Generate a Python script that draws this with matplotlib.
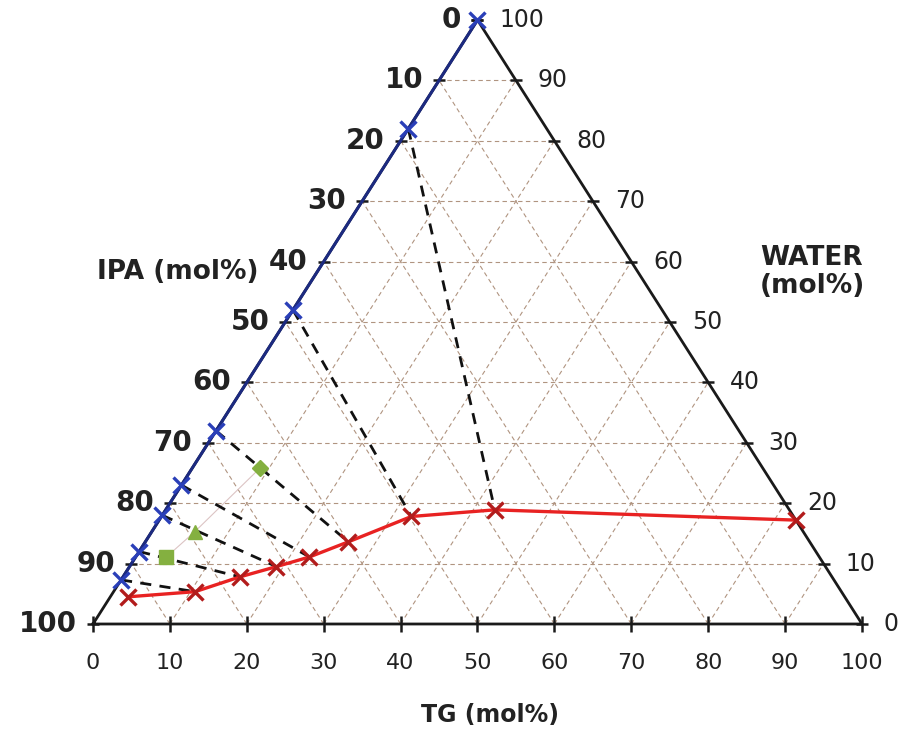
import numpy as np
import matplotlib
matplotlib.use("Agg")
import matplotlib.pyplot as plt

# compositions in mol% (TG, WATER); IPA = 100 - TG - WATER
blue_water = [100, 82, 52, 32, 23, 18, 12, 7.3]          # IPA/WATER side (TG = 0)
red_tg = [2.3, 10.6, 15.2, 19.1, 22.6, 26.4, 32.5, 42.8, 82.8]
red_water = [4.5, 5.35, 7.8, 9.5, 11.1, 13.6, 17.8, 18.9, 17.2]
tie_blue = [1, 2, 3, 4, 5, 6, 7]       # index into blue_water
tie_red = [7, 6, 5, 4, 3, 2, 1]        # index into red points
green_tg = [8.8, 5.6, 4.0]
green_water = [25.8, 15.3, 11.1]
green_markers = ["D", "^", "s"]
ticks = [0, 10, 20, 30, 40, 50, 60, 70, 80, 90, 100]


def tern(tg, water):
    tg = np.asarray(tg, dtype=float)
    water = np.asarray(water, dtype=float)
    return tg + water / 2.0, water


fig = plt.figure(figsize=(9.07, 7.37), dpi=100)
W, H = 907.0, 737.0
ax = fig.add_axes([93 / W, (H - 624) / H, 769 / W, 604 / H])
ax.set_xlim(0, 100)
ax.set_ylim(0, 100)
ax.axis("off")

grid_kw = dict(color="#b09480", lw=0.8, ls=(0, (4, 3)), zorder=1)
for k in ticks[1:-1]:
    # constant water
    x, y = tern([0, 100 - k], [k, k])
    ax.plot(x, y, **grid_kw)
    # constant TG
    x, y = tern([k, k], [0, 100 - k])
    ax.plot(x, y, **grid_kw)
    # constant IPA
    x, y = tern([100 - k, 0], [0, 100 - k])
    ax.plot(x, y, **grid_kw)

# triangle
x, y = tern([0, 100, 0, 0], [0, 0, 100, 0])
ax.plot(x, y, color="#1a1a1a", lw=2.0, zorder=2, clip_on=False)

# ticks and labels
tk = np.array(ticks, dtype=float)
x, y = tern(np.zeros_like(tk), 100 - tk)
ax.plot(x, y, ls="none", marker="_", ms=9, mew=1.8, color="#1a1a1a", zorder=3, clip_on=False)
for v, xx, yy in zip(ticks, x, y):
    ax.annotate(str(v), (xx, yy), xytext=(-16, 0), textcoords="offset pixels",
                ha="right", va="center", fontsize=20, fontweight="bold", color="#222222")

x, y = tern(100 - tk, tk)
ax.plot(x, y, ls="none", marker="_", ms=9, mew=1.8, color="#1a1a1a", zorder=3, clip_on=False)
for v, xx, yy in zip(ticks, x, y):
    ax.annotate(str(v), (xx, yy), xytext=(22, 0), textcoords="offset pixels",
                ha="left", va="center", fontsize=17, color="#222222")

x, y = tern(tk, np.zeros_like(tk))
ax.plot(x, y, ls="none", marker="|", ms=11, mew=1.8, color="#1a1a1a", zorder=3, clip_on=False)
for v, xx, yy in zip(ticks, x, y):
    ax.annotate(str(v), (xx, yy), xytext=(0, -39), textcoords="offset pixels",
                ha="center", va="center", fontsize=16, color="#222222")

# left side (blue)
bx, by = tern(np.zeros(len(blue_water)), blue_water)
ax.plot(bx, by, color="#1c2a80", lw=2.2, zorder=4, clip_on=False)
ax.plot(bx, by, ls="none", marker="x", ms=12, mew=2.4, color="#2a3fb8", zorder=6, clip_on=False)

# tie lines
rx, ry = tern(red_tg, red_water)
for i, j in zip(tie_blue, tie_red):
    ax.plot([bx[i], rx[j]], [by[i], ry[j]], color="#111111", lw=2.0,
            ls=(0, (4, 3)), zorder=4)

# green points
gx, gy = tern(green_tg, green_water)
ax.plot(gx, gy, color="#dcc4c4", lw=0.8, zorder=3)
for xx, yy, m in zip(gx, gy, green_markers):
    ax.plot(xx, yy, ls="none", marker=m, ms=10 if m != "D" else 8,
            color="#84b040", zorder=5)

# red curve
ax.plot(rx, ry, color="#e82222", lw=2.4, zorder=5, clip_on=False)
ax.plot(rx, ry, ls="none", marker="x", ms=12, mew=2.4, color="#b21c1c", zorder=6, clip_on=False)

# axis titles
fig.text(97 / W, 1 - 272 / H, "IPA (mol%)", ha="left", va="center",
         fontsize=19, fontweight="bold", color="#222222")
fig.text(812 / W, 1 - 272 / H, "WATER\n(mol%)", ha="center", va="center",
         fontsize=19, fontweight="bold", color="#222222", linespacing=1.1)
fig.text(490 / W, 1 - 715 / H, "TG (mol%)", ha="center", va="center",
         fontsize=17, fontweight="bold", color="#222222")

fig.savefig("out.png", dpi=100)
